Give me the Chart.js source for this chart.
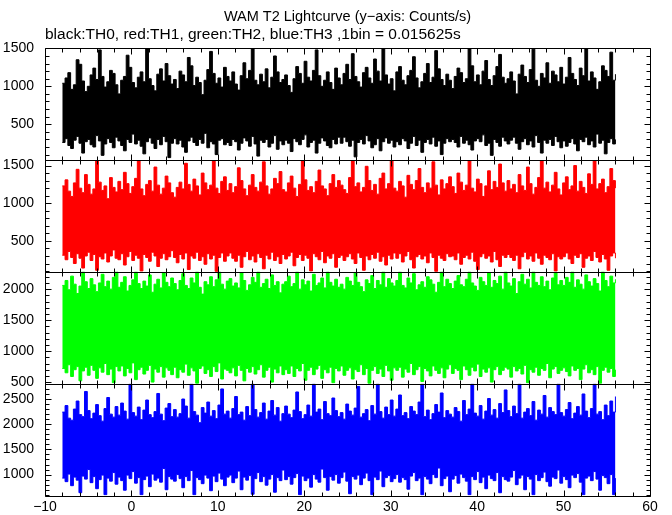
<!DOCTYPE html>
<html>
<head>
<meta charset="utf-8">
<title>WAM T2 Lightcurve</title>
<script src="https://cdn.jsdelivr.net/npm/chart.js@4.4.1/dist/chart.umd.min.js"></script>
<style>
  html, body { margin: 0; padding: 0; background: #fff; }
  #lc { display: block; }
</style>
</head>
<body>
<canvas id="lc" width="672" height="515"></canvas>
<script>
// time span of the lightcurve (s) and x tick labels
var T_START = -8;
var T_END = 56;
var xTickLabels = [-10, 0, 10, 20, 30, 40, 50, 60];

// upper / lower edge of each band, counts/s
var blackHi = [
  1040,1110,1180,960,1020,1350,1290,1070,930,1000,1150,1240,1090,1480,1130,990,1060,1210,1170,1020,
  900,1080,1130,1410,1250,1050,980,1120,1190,1060,1500,1100,1010,940,1160,1230,1070,1300,1140,1030,
  1090,970,1200,1150,1060,1380,1270,1010,1120,1050,890,1080,1220,1460,1170,1040,1110,990,1250,1130,
  1070,1190,1030,950,1140,1310,1100,1210,1500,1080,1020,1160,1060,1230,980,1120,1400,1190,1050,1090,
  1150,1010,920,1100,1260,1170,1040,1330,1120,1070,1210,1480,1140,1000,1080,1190,1050,960,1240,1110,
  1020,1170,1290,1090,1430,1130,1060,990,1180,1250,1110,1040,1360,1200,1070,1500,1150,1030,1100,940,
  1190,1260,1080,1020,1140,1210,1390,1110,980,1060,1170,1300,1050,1120,1470,1230,1090,1010,1160,1080,
  970,1130,1240,1180,1050,1100,1500,1270,1060,1150,1020,1200,1340,1090,1010,1140,1260,1420,1120,1040,
  1100,1190,1070,900,1160,1280,1130,1050,1220,1490,1080,1000,1170,1110,1310,1040,1200,1150,1060,1250,
  1030,1120,1380,1170,1090,1010,1240,1140,1500,1070,1190,1110,960,1060,1270,1210,1130,1450,1080,1160
];
var blackLo = [
  260,310,220,180,290,340,250,120,270,300,230,200,350,280,90,240,310,260,190,330,
  280,220,150,300,260,370,240,290,210,110,270,320,250,180,300,230,340,270,60,250,
  310,240,290,200,130,280,330,260,220,300,250,380,190,270,240,100,290,310,230,260,
  220,300,270,160,250,320,280,210,340,240,80,290,260,300,200,250,350,170,280,230,
  290,250,140,310,270,230,300,360,200,260,290,120,250,320,280,220,190,300,240,330,
  250,330,270,210,290,70,260,300,240,350,280,190,230,310,150,270,320,250,290,200,
  270,230,310,280,180,250,340,220,290,130,260,300,240,330,210,280,100,250,310,270,
  300,260,200,340,250,290,230,160,280,310,270,360,220,250,90,300,260,210,330,280,
  240,290,330,250,170,270,310,230,280,200,350,260,120,290,250,300,220,340,270,190,
  280,210,260,310,240,150,300,270,330,230,280,200,370,250,290,110,260,310,240,300
];
var redHi = [
  1230,1310,1160,1090,1270,1450,1200,1140,1380,1250,1120,1190,1570,1280,1170,1230,1060,1340,1210,1150,
  1290,1180,1410,1260,1130,1220,1330,1570,1190,1100,1250,1300,1160,1480,1240,1120,1200,1360,1270,1140,
  1080,1210,1280,1190,1530,1250,1160,1320,1230,1110,1400,1270,1180,1240,1570,1200,1130,1290,1350,1170,
  1260,1140,1220,1470,1300,1190,1100,1240,1380,1210,1160,1280,1550,1230,1120,1190,1330,1260,1420,1180,
  1150,1270,1360,1200,1090,1250,1570,1310,1170,1220,1140,1290,1440,1230,1190,1100,1260,1380,1210,1300,
  1240,1180,1130,1340,1560,1220,1270,1150,1210,1490,1300,1170,1250,1120,1330,1400,1190,1260,1570,1200,
  1160,1290,1230,1080,1370,1250,1180,1300,1460,1210,1140,1270,1200,1550,1240,1110,1310,1190,1260,1350,
  1220,1130,1400,1280,1170,1240,1570,1200,1150,1320,1260,1090,1230,1430,1180,1290,1210,1520,1270,1160,
  1300,1190,1250,1140,1380,1230,1170,1480,1260,1120,1210,1340,1570,1200,1280,1150,1240,1410,1190,1110,
  1270,1350,1180,1230,1500,1160,1290,1210,1130,1390,1250,1570,1190,1260,1320,1140,1220,1460,1300,1200
];
var redLo = [
  310,250,360,280,200,330,270,140,300,350,240,320,110,290,260,340,220,300,380,270,
  250,330,180,290,360,240,310,270,100,320,280,230,350,300,160,270,330,250,290,370,
  280,210,320,260,340,120,300,270,350,240,290,190,330,260,310,95,280,340,230,300,
  340,270,230,310,150,290,360,250,300,220,330,280,130,310,260,350,240,290,200,320,
  260,300,350,170,280,320,240,310,270,100,330,290,250,360,210,300,270,330,150,280,
  310,240,290,330,260,200,340,280,110,300,250,320,270,350,230,290,180,310,260,340,
  270,330,220,300,360,250,140,290,320,260,300,210,340,280,95,310,270,240,330,290,
  300,250,340,190,280,310,260,350,230,120,290,330,270,300,220,360,250,160,310,280,
  320,280,240,310,130,290,350,260,300,230,340,270,190,310,280,250,330,100,290,260,
  290,340,260,200,310,280,330,150,270,300,240,360,280,220,320,260,110,300,340,270
];
var greenHi = [
  2060,2140,1990,2210,2080,1930,2050,2280,2120,2010,2170,2070,1960,2100,2240,2040,2130,2000,2190,2280,
  2030,2110,2200,1970,2060,2150,2280,2090,2010,2130,2050,2230,1950,2080,2160,2020,2270,2110,2040,2180,
  2090,1990,2140,2250,2060,2010,2180,2100,2280,2030,1920,2120,2070,2200,2040,2150,2280,2080,2000,2130,
  2170,2050,2100,2020,2260,2140,1980,2070,2190,2110,2280,2030,2090,2160,2010,2230,2060,2120,1940,2080,
  2120,2210,2040,2090,2280,2000,2150,2070,2130,1970,2240,2060,2100,2180,2020,2280,2110,2050,2160,2030,
  2080,2000,2190,2130,2060,2270,2110,2040,1960,2150,2090,2220,2010,2140,2070,2280,2030,2170,2100,2050,
  2140,2280,2060,2020,2180,2100,2250,1990,2070,2120,2030,2200,2150,2080,1950,2110,2280,2040,2160,2090,
  2010,2130,2220,2070,2040,2160,2280,2100,2050,1980,2190,2120,2060,2260,2030,2140,2090,2210,2000,2280,
  2100,2050,2170,1930,2120,2240,2080,2160,2020,2280,2110,2060,2200,2040,2130,1990,2180,2270,2070,2140,
  2060,2190,2110,2280,2030,2150,2080,2000,2230,2120,2050,2170,2090,1970,2280,2140,2040,2210,2100,2160
];
var greenLo = [
  720,650,780,590,700,750,520,680,740,610,770,690,560,730,660,800,620,710,490,750,
  680,760,600,720,650,810,540,700,740,630,690,770,500,710,660,750,580,730,690,620,
  740,570,700,660,790,610,730,680,480,720,760,640,700,590,750,670,810,550,710,690,
  650,730,600,770,690,520,720,660,750,630,700,780,580,690,740,500,710,650,760,620,
  700,640,760,590,720,680,800,530,690,740,620,710,770,560,700,650,740,490,720,680,
  760,610,690,730,550,700,670,780,620,720,480,690,750,640,710,590,770,680,530,730,
  690,740,580,710,660,800,620,700,750,510,720,680,600,760,690,640,730,570,710,780,
  640,720,690,540,760,700,610,740,680,790,590,710,660,730,500,700,750,620,690,740,
  710,580,750,680,720,630,770,490,700,660,740,610,720,690,800,570,710,750,640,690,
  730,670,600,760,690,720,540,710,780,650,700,620,750,480,690,740,660,720,590,700
];
var blueHi = [
  2240,2370,2120,2080,2300,2460,2190,2150,2650,2270,2110,2220,2390,2170,2060,2310,2530,2200,2140,2350,
  2180,2420,2260,2100,2800,2230,2160,2340,2090,2280,2480,2190,2130,2250,2610,2200,2070,2320,2410,2150,
  2290,2140,2210,2500,2360,2120,2800,2250,2180,2030,2330,2220,2440,2160,2270,2110,2380,2700,2200,2260,
  2120,2310,2550,2190,2240,2080,2350,2170,2800,2290,2140,2230,2420,2100,2260,2470,2180,2330,2060,2210,
  2360,2200,2130,2280,2640,2250,2110,2190,2380,2160,2800,2240,2300,2090,2450,2210,2170,2520,2270,2150,
  2230,2100,2400,2260,2180,2320,2750,2140,2210,2290,2070,2370,2200,2800,2250,2120,2340,2190,2480,2160,
  2300,2580,2170,2230,2110,2350,2260,2190,2440,2800,2150,2280,2090,2210,2390,2240,2620,2130,2270,2200,
  2140,2330,2250,2060,2470,2190,2300,2800,2220,2160,2370,2100,2260,2510,2180,2290,2120,2410,2230,2680,
  2270,2150,2360,2210,2800,2120,2240,2310,2170,2450,2080,2280,2200,2570,2140,2330,2250,2190,2800,2230,
  2160,2290,2430,2110,2220,2350,2180,2600,2260,2130,2310,2800,2200,2250,2090,2380,2170,2460,2240,2550
];
var blueLo = [
  930,860,1010,780,950,890,640,970,910,1100,840,960,720,900,990,600,930,870,1040,810,
  950,880,690,990,920,1060,830,940,600,900,970,760,1010,890,930,850,1120,700,960,910,
  870,1000,920,740,960,880,1080,600,940,900,820,990,930,680,970,860,1030,910,780,950,
  990,840,930,1070,700,950,890,980,610,920,1040,860,960,790,910,1000,650,940,880,1090,
  900,960,810,940,1020,600,970,880,930,750,1000,910,850,1110,940,690,960,890,1000,830,
  940,1050,870,620,960,910,990,800,930,1030,880,600,950,900,1070,760,940,980,860,920,
  1000,850,940,900,710,970,1040,880,930,600,960,910,820,1000,940,1130,780,920,970,660,
  910,980,830,1010,940,870,600,960,900,1060,840,950,720,990,920,880,1040,640,960,900,
  870,950,1080,800,930,990,700,960,910,600,1000,880,940,1050,860,770,950,920,1090,830,
  960,900,740,990,940,1020,850,600,930,970,880,1060,910,690,980,940,820,1000,600,930
];

var FONT = "'Liberation Sans', Arial, Helvetica, sans-serif";
Chart.defaults.font.family = FONT;
Chart.defaults.font.size = 14;
Chart.defaults.color = '#000';

function toPoints(arr) {
  var step = (T_END - T_START) / (arr.length - 1);
  return arr.map(function (v, i) { return { x: T_START + i * step, y: v }; });
}

function band(label, axis, color, hi, lo) {
  var common = {
    yAxisID: axis, borderColor: color, backgroundColor: color,
    borderWidth: 1, pointRadius: 0, stepped: true, tension: 0
  };
  return [
    Object.assign({ label: label + ' max', data: toPoints(hi), fill: false }, common),
    Object.assign({ label: label + ' min', data: toPoints(lo), fill: '-1' }, common)
  ];
}

// a tick every 100 counts/s, labelled every 500
function hundreds(min, max) {
  var t = [];
  for (var v = Math.ceil(min / 100) * 100; v <= max; v += 100) t.push({ value: v });
  return t;
}

function panelAxis(min, max) {
  return {
    type: 'linear', position: 'left', stack: 'lc', stackWeight: 1,
    min: min, max: max,
    grid: { display: false, drawTicks: false },
    border: { display: false },
    afterBuildTicks: function (s) { s.ticks = hundreds(s.min, s.max); },
    ticks: {
      autoSkip: false, padding: 11,
      callback: function (v) { return v % 500 === 0 ? String(v) : ''; }
    },
    afterFit: function (s) { s.width = 45; }
  };
}

var panelIds = ['yBlack', 'yRed', 'yGreen', 'yBlue'];

// frame round each panel with inward ticks, like the original plot
var frameTicks = {
  id: 'frameTicks',
  afterDatasetsDraw: function (chart) {
    var ctx = chart.ctx, xs = chart.scales.x;
    var l = Math.round(xs.left) + 0.5, r = Math.round(xs.right) + 0.5;
    ctx.save();
    ctx.strokeStyle = '#000';
    ctx.lineWidth = 1;
    panelIds.forEach(function (id) {
      var ys = chart.scales[id];
      var t = Math.round(ys.top) + 0.5, b = Math.round(ys.bottom) + 0.5;
      ctx.beginPath();
      ctx.rect(l, t, r - l, b - t);
      ys.ticks.forEach(function (tk) {
        var py = Math.round(ys.getPixelForValue(tk.value)) + 0.5;
        var len = tk.value % 500 === 0 ? 6 : 4;
        ctx.moveTo(l, py); ctx.lineTo(l + len, py);
        ctx.moveTo(r, py); ctx.lineTo(r - len, py);
      });
      xs.ticks.forEach(function (tk) {
        var px = Math.round(xs.getPixelForValue(tk.value)) + 0.5;
        var len = xTickLabels.indexOf(tk.value) >= 0 ? 6 : 4;
        ctx.moveTo(px, t); ctx.lineTo(px, t + len);
        ctx.moveTo(px, b); ctx.lineTo(px, b - len);
      });
      ctx.stroke();
    });
    ctx.restore();
  }
};

new Chart(document.getElementById('lc'), {
  type: 'line',
  data: {
    datasets: [].concat(
      band('TH0', 'yBlack', '#000000', blackHi, blackLo),
      band('TH1', 'yRed', '#ff0000', redHi, redLo),
      band('TH2', 'yGreen', '#00ff00', greenHi, greenLo),
      band('TH3', 'yBlue', '#0000ff', blueHi, blueLo)
    )
  },
  options: {
    responsive: false,
    animation: false,
    events: [],
    layout: { padding: { left: 0, right: 22, top: 0, bottom: 0 } },
    scales: {
      x: {
        type: 'linear', min: -10, max: 60,
        grid: { display: false, drawTicks: false },
        border: { display: false },
        ticks: {
          stepSize: 2, autoSkip: false, maxRotation: 0, padding: 3,
          callback: function (v) {
            if (xTickLabels.indexOf(v) < 0) return '';
            return v < 0 ? '\u2212' + Math.abs(v) : String(v);
          }
        },
        afterFit: function (s) { s.height = 19; }
      },
      // stacked bottom to top
      yBlue: panelAxis(583, 2804),
      yGreen: panelAxis(474, 2280),
      yRed: panelAxis(90, 1575),
      yBlack: panelAxis(30, 1505)
    },
    plugins: {
      legend: { display: false },
      tooltip: { enabled: false },
      title: {
        display: true, fullSize: false, align: 'center',
        text: 'WAM T2 Lightcurve (y\u2212axis: Counts/s)',
        color: '#000', font: { size: 14.5, weight: 'normal' },
        padding: { top: 8, bottom: 0 }
      },
      subtitle: {
        display: true, fullSize: false, align: 'start',
        text: 'black:TH0, red:TH1, green:TH2, blue:TH3 ,1bin = 0.015625s',
        color: '#000', font: { size: 15.5, weight: 'normal' },
        padding: { top: 0, bottom: 4 }
      }
    }
  },
  plugins: [frameTicks]
});
</script>
</body>
</html>
